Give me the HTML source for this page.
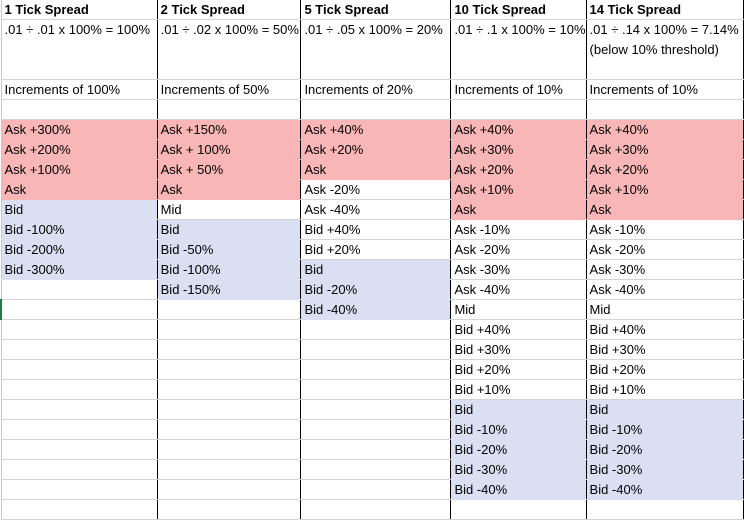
<!DOCTYPE html>
<html><head><style>
body{margin:0;background:#fff;width:744px;height:505px;overflow:hidden}
table{border-collapse:collapse;table-layout:fixed;font-family:"Liberation Sans",sans-serif;font-size:13px;color:#000}
td{height:19px;padding:0 0 0 3px;border-bottom:1px solid #d4d4d4;border-right:1px solid #000;white-space:nowrap;overflow:hidden;vertical-align:middle;line-height:19px}
td.p{background:#f9b6b6;border-bottom-color:#f9b6b6}
td.b{background:#dae0f2;border-bottom-color:#dae0f2}
tr.h td{font-weight:bold}
tr.f td{height:59px;vertical-align:top;line-height:20px}
td:first-child{border-left:1px solid #c8c8c8}
</style></head><body>
<table>
<colgroup><col style="width:157px"><col style="width:144px"><col style="width:151px"><col style="width:135px"><col style="width:158px"></colgroup>
<tr class="h"><td>1 Tick Spread</td><td>2 Tick Spread</td><td>5 Tick Spread</td><td>10 Tick Spread</td><td>14 Tick Spread</td></tr>
<tr class="f"><td>.01 ÷ .01 x 100% = 100%</td><td>.01 ÷ .02 x 100% = 50%</td><td>.01 ÷ .05 x 100% = 20%</td><td>.01 ÷ .1 x 100% = 10%</td><td>.01 ÷ .14 x 100% = 7.14%<br>(below 10% threshold)</td></tr>
<tr><td>Increments of 100%</td><td>Increments of 50%</td><td>Increments of 20%</td><td>Increments of 10%</td><td>Increments of 10%</td></tr>
<tr><td></td><td></td><td></td><td></td><td></td></tr>
<tr><td class="p">Ask +300%</td><td class="p">Ask +150%</td><td class="p">Ask +40%</td><td class="p">Ask +40%</td><td class="p">Ask +40%</td></tr>
<tr><td class="p">Ask +200%</td><td class="p">Ask + 100%</td><td class="p">Ask +20%</td><td class="p">Ask +30%</td><td class="p">Ask +30%</td></tr>
<tr><td class="p">Ask +100%</td><td class="p">Ask + 50%</td><td class="p">Ask</td><td class="p">Ask +20%</td><td class="p">Ask +20%</td></tr>
<tr><td class="p">Ask</td><td class="p">Ask</td><td>Ask -20%</td><td class="p">Ask +10%</td><td class="p">Ask +10%</td></tr>
<tr><td class="b">Bid</td><td>Mid</td><td>Ask -40%</td><td class="p">Ask</td><td class="p">Ask</td></tr>
<tr><td class="b">Bid -100%</td><td class="b">Bid</td><td>Bid +40%</td><td>Ask -10%</td><td>Ask -10%</td></tr>
<tr><td class="b">Bid -200%</td><td class="b">Bid -50%</td><td>Bid +20%</td><td>Ask -20%</td><td>Ask -20%</td></tr>
<tr><td class="b">Bid -300%</td><td class="b">Bid -100%</td><td class="b">Bid</td><td>Ask -30%</td><td>Ask -30%</td></tr>
<tr><td></td><td class="b">Bid -150%</td><td class="b">Bid -20%</td><td>Ask -40%</td><td>Ask -40%</td></tr>
<tr><td style="border-left:2px solid #1e7b45"></td><td></td><td class="b">Bid -40%</td><td>Mid</td><td>Mid</td></tr>
<tr><td></td><td></td><td></td><td>Bid +40%</td><td>Bid +40%</td></tr>
<tr><td></td><td></td><td></td><td>Bid +30%</td><td>Bid +30%</td></tr>
<tr><td></td><td></td><td></td><td>Bid +20%</td><td>Bid +20%</td></tr>
<tr><td></td><td></td><td></td><td>Bid +10%</td><td>Bid +10%</td></tr>
<tr><td></td><td></td><td></td><td class="b">Bid</td><td class="b">Bid</td></tr>
<tr><td></td><td></td><td></td><td class="b">Bid -10%</td><td class="b">Bid -10%</td></tr>
<tr><td></td><td></td><td></td><td class="b">Bid -20%</td><td class="b">Bid -20%</td></tr>
<tr><td></td><td></td><td></td><td class="b">Bid -30%</td><td class="b">Bid -30%</td></tr>
<tr><td></td><td></td><td></td><td class="b">Bid -40%</td><td class="b">Bid -40%</td></tr>
<tr><td></td><td></td><td></td><td></td><td></td></tr>
</table>
</body></html>
